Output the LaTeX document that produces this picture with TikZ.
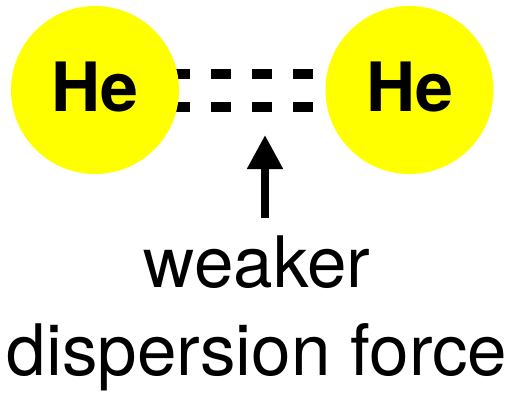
\documentclass[tikz,border=0pt]{standalone}
\usepackage{fontspec}
\setmainfont{TeX Gyre Heros}
\usetikzlibrary{arrows.meta}
\definecolor{heyellow}{RGB}{255,255,0}

\begin{document}
\begin{tikzpicture}[
  x=1pt, y=-1pt,
  atom/.style={circle, fill=heyellow, minimum size=168pt, inner sep=0pt, text depth=6pt, font=\fontsize{68}{68}\selectfont\bfseries},
  bond/.style={line width=10pt, dash pattern=on 20pt off 21pt, dash phase=7pt},
  pointer/.style={line width=8pt, -{Triangle[length=34pt, width=34pt]}},
  txt/.style={anchor=base, inner sep=0pt, font=\fontsize{71}{71}\selectfont}
  ]
\useasboundingbox (0,0) rectangle (529,393);

% atom centres
\coordinate (c1) at (95,90);
\coordinate (c2) at (409.5,90);

% dispersion force (drawn under the atoms)
\draw[bond] ([yshift=16pt]c1) -- ([yshift=16pt]c2);
\draw[bond] ([yshift=-17pt]c1) -- ([yshift=-17pt]c2);

% helium atoms
\node[atom] (he1) at (c1) {He};
\node[atom] (he2) at (c2) {He};

% pointer and caption
\coordinate (tail) at (265,218);
\coordinate (tip) at (265,135);
\draw[pointer] (tail) -- (tip);

\node[txt] (weak) at (257,287) {weaker};
\node[txt] (disp) at (257,375) {dispersion force};
\end{tikzpicture}
\end{document}
